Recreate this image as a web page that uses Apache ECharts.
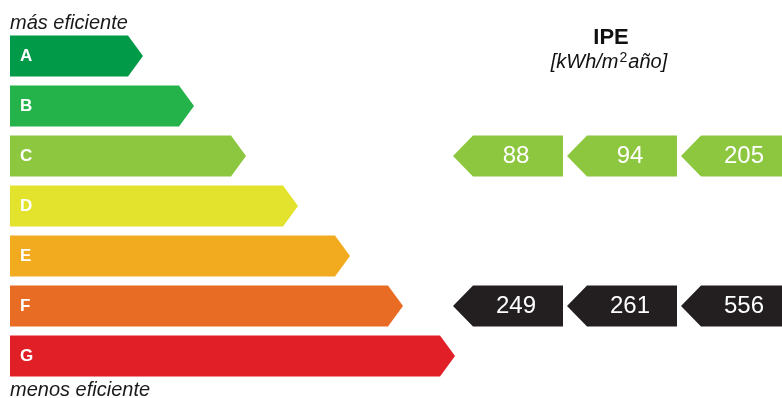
<!DOCTYPE html>
<html>
<head>
<meta charset="utf-8">
<script src="https://cdn.jsdelivr.net/npm/echarts@6/dist/echarts.min.js"></script>
<style>
html, body { margin: 0; padding: 0; background: #fff; }
#chart { width: 782px; height: 398px; }
</style>
</head>
<body>
<div id="chart"></div>
<script>
// clases energéticas y longitud de cada flecha
var categories = ['A', 'B', 'C', 'D', 'E', 'F', 'G'];
var barLengths = [133, 184, 236, 288, 340, 393, 445];
var barColors = ['#009a48', '#24b24b', '#8dc63f', '#e3e22c', '#f2ab1e', '#e96c24', '#e11f26'];

// valores IPE [kWh/m2año], tres columnas
var ipeColumns = [0, 1, 2];
var ipeRows = ['C', 'F'];
var ipeValues = [
    [88, 94, 205],
    [249, 261, 556]
];
var ipeColors = ['#8dc63f', '#231f20'];

var FONT = '"Liberation Sans", Arial, sans-serif';

var myChart = echarts.init(document.getElementById('chart'));

var barData = categories.map(function (c, i) {
    return [barLengths[i], i];
});

var ipeData = [];
ipeRows.forEach(function (r, ri) {
    ipeValues[ri].forEach(function (v, ci) {
        ipeData.push([ipeColumns[ci], categories.indexOf(r), v, ri]);
    });
});

var option = {
    animation: false,
    grid: [
        { left: 10, width: 772, top: 31, height: 350 },
        { left: 453, width: 329, top: 31, height: 350 }
    ],
    xAxis: [
        { type: 'value', gridIndex: 0, min: 0, max: 772, show: false },
        // cada columna ocupa 114px (flecha de 110 + hueco), la tercera queda cortada
        { type: 'value', gridIndex: 1, min: 0, max: 329 / 114, show: false }
    ],
    yAxis: [
        { type: 'category', gridIndex: 0, data: categories, inverse: true, show: false },
        { type: 'category', gridIndex: 1, data: categories, inverse: true, show: false }
    ],
    graphic: [
        {
            type: 'text', left: 10, top: 13,
            style: { text: 'más eficiente', font: 'italic 20px ' + FONT, fill: '#1a1a1a' }
        },
        {
            type: 'text', left: 10, top: 380,
            style: { text: 'menos eficiente', font: 'italic 20px ' + FONT, fill: '#1a1a1a' }
        },
        {
            type: 'text', x: 611, y: 38,
            style: { text: 'IPE', font: 'bold 22px ' + FONT, fill: '#111', align: 'center', verticalAlign: 'middle' }
        },
        {
            type: 'text', x: 609, y: 62,
            style: {
                text: '{a|[kWh/m}{s|2}{a|año]}',
                align: 'center', verticalAlign: 'middle',
                rich: {
                    a: { font: 'italic 20px ' + FONT, fill: '#111', lineHeight: 22 },
                    s: { font: '14px ' + FONT, fill: '#111', verticalAlign: 'top', lineHeight: 22, padding: [0, 1, 5, 1] }
                }
            }
        }
    ],
    series: [
        {
            type: 'custom',
            xAxisIndex: 0,
            yAxisIndex: 0,
            data: barData,
            renderItem: function (params, api) {
                var idx = api.value(1);
                var p0 = api.coord([0, idx]);
                var p1 = api.coord([api.value(0), idx]);
                var h = 41, tip = 15;
                var y = p0[1];
                return {
                    type: 'group',
                    children: [
                        {
                            type: 'polygon',
                            shape: {
                                points: [
                                    [p0[0], y - h / 2],
                                    [p1[0] - tip, y - h / 2],
                                    [p1[0], y],
                                    [p1[0] - tip, y + h / 2],
                                    [p0[0], y + h / 2]
                                ]
                            },
                            style: { fill: barColors[idx] }
                        },
                        {
                            type: 'text',
                            x: p0[0] + 10,
                            y: y,
                            style: {
                                text: categories[idx],
                                font: 'bold 17px ' + FONT,
                                fill: '#fff',
                                verticalAlign: 'middle'
                            }
                        }
                    ]
                };
            }
        },
        {
            type: 'custom',
            xAxisIndex: 1,
            yAxisIndex: 1,
            data: ipeData,
            clip: false,
            renderItem: function (params, api) {
                var c = api.coord([api.value(0), api.value(1)]);
                var left = c[0];
                var w = 110, h = 41, tip = 20;
                var y = c[1];
                return {
                    type: 'group',
                    children: [
                        {
                            type: 'polygon',
                            shape: {
                                points: [
                                    [left, y],
                                    [left + tip, y - h / 2],
                                    [left + w, y - h / 2],
                                    [left + w, y + h / 2],
                                    [left + tip, y + h / 2]
                                ]
                            },
                            style: { fill: ipeColors[api.value(3)] }
                        },
                        {
                            type: 'text',
                            x: left + (tip + w) / 2 - 2,
                            y: y,
                            style: {
                                text: String(api.value(2)),
                                font: '24px ' + FONT,
                                fill: '#fff',
                                align: 'center',
                                verticalAlign: 'middle'
                            }
                        }
                    ]
                };
            }
        }
    ]
};

option && myChart.setOption(option);
</script>
</body>
</html>
